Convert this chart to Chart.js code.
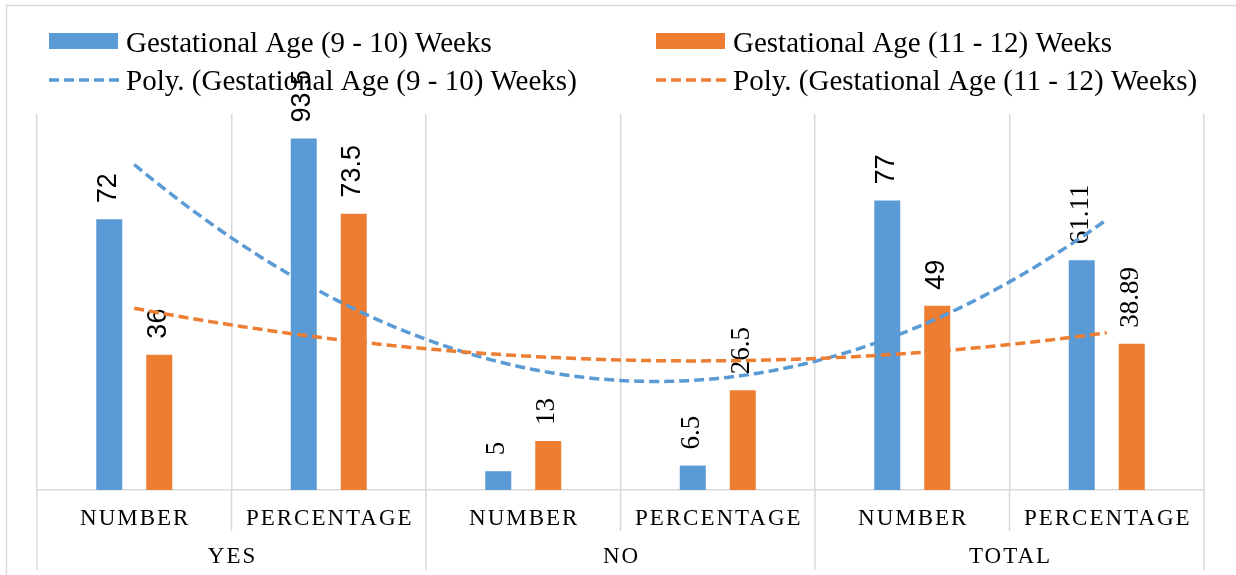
<!DOCTYPE html>
<html lang="en">
<head>
    <meta charset="UTF-8">
    <title>Gestational Age chart</title>
    <script src="https://cdn.jsdelivr.net/npm/chart.js"></script>
    <style>
        body { margin: 0; background: #fff; }
        .wrap { width: 1236px; height: 575px; position: relative; }
    </style>
</head>
<body>
    <div class="wrap"><canvas id="chart"></canvas></div>
    <script>
        // Data
        const categories = ["NUMBER", "PERCENTAGE", "NUMBER", "PERCENTAGE", "NUMBER", "PERCENTAGE"];
        const groups = ["YES", "NO", "TOTAL"];
        const seriesNames = ["Gestational Age (9 - 10) Weeks", "Gestational Age (11 - 12) Weeks"];
        const early = [72, 93.5, 5, 6.5, 77, 61.11];
        const late = [36, 73.5, 13, 26.5, 49, 38.89];

        const BLUE = "#5B9BD5";
        const ORANGE = "#ED7D31";
        const GRID = "#d9d9d9";
        const SERIF = "'Liberation Serif', 'Times New Roman', serif";
        const SANS = "'Liberation Sans', Arial, sans-serif";
        // which categories had their value labels in the sans font
        const sansLabels = [true, true, false, false, true, false];

        // Excel "Poly." trendline = order 2 least squares fit of the bar values
        function polyFit(values) {
            const xs = values.map((v, i) => i + 1);
            const s = [0, 0, 0, 0, 0], t = [0, 0, 0];
            xs.forEach((x, i) => {
                for (let k = 0; k < 5; k++) s[k] += Math.pow(x, k);
                for (let k = 0; k < 3; k++) t[k] += values[i] * Math.pow(x, k);
            });
            const m = [[s[0], s[1], s[2], t[0]], [s[1], s[2], s[3], t[1]], [s[2], s[3], s[4], t[2]]];
            for (let i = 0; i < 3; i++) {
                for (let j = i + 1; j < 3; j++) {
                    const f = m[j][i] / m[i][i];
                    for (let k = i; k < 4; k++) m[j][k] -= f * m[i][k];
                }
            }
            const c = [0, 0, 0];
            for (let i = 2; i >= 0; i--) {
                let v = m[i][3];
                for (let k = i + 1; k < 3; k++) v -= m[i][k] * c[k];
                c[i] = v / m[i][i];
            }
            const pts = [];
            for (let x = 1; x <= 6.0001; x += 0.05) pts.push({ x: x, y: c[0] + c[1] * x + c[2] * x * x });
            return pts;
        }

        // trendlines kept out of the dataset list: line datasets in a mixed
        // chart throw off the grouped bar widths, so they are stroked here
        // through the chart's own xt / y scales
        const trends = [
            { label: "Poly. (" + seriesNames[0] + ")", color: BLUE, points: polyFit(early) },
            { label: "Poly. (" + seriesNames[1] + ")", color: ORANGE, points: polyFit(late) }
        ];

        const decor = {
            id: "decor",
            beforeDraw(chart) {
                const ctx = chart.ctx;
                ctx.save();
                // outer frame (left and top edges show in the crop)
                ctx.strokeStyle = GRID;
                ctx.lineWidth = 1.5;
                ctx.beginPath();
                ctx.moveTo(6.5, 575);
                ctx.lineTo(6.5, 5.5);
                ctx.lineTo(1236, 5.5);
                ctx.stroke();

                // legend, two columns
                const colX = [49, 656];
                const base = [52, 90];
                ctx.font = "29px " + SERIF;
                ctx.textBaseline = "alphabetic";
                [BLUE, ORANGE].forEach((col, i) => {
                    ctx.fillStyle = col;
                    ctx.fillRect(colX[i], 33, 69, 16);
                    ctx.strokeStyle = col;
                    ctx.lineWidth = 3.5;
                    ctx.setLineDash([10, 5]);
                    ctx.beginPath();
                    ctx.moveTo(colX[i], 80);
                    ctx.lineTo(colX[i] + 70, 80);
                    ctx.stroke();
                    ctx.setLineDash([]);
                    ctx.fillStyle = "#000";
                    ctx.fillText(seriesNames[i], colX[i] + 77, base[0]);
                    ctx.fillText(trends[i].label, colX[i] + 77, base[1]);
                });
                ctx.restore();
            },
            afterDatasetDraw(chart, args) {
                const ds = chart.data.datasets[args.index];
                const ctx = chart.ctx;
                ctx.save();
                ctx.fillStyle = "#000";
                ctx.textAlign = "left";
                ctx.textBaseline = "middle";
                args.meta.data.forEach((bar, i) => {
                    ctx.save();
                    ctx.font = sansLabels[i] ? "27px " + SANS : "27px " + SERIF;
                    ctx.translate(bar.x - 1, bar.y - 16);
                    ctx.rotate(-Math.PI / 2);
                    ctx.fillText(String(ds.data[i]), 0, 0);
                    ctx.restore();
                });
                ctx.restore();
            },
            afterDatasetsDraw(chart) {
                const ctx = chart.ctx;
                const xt = chart.scales.xt, y = chart.scales.y;
                ctx.save();
                ctx.lineWidth = 3.5;
                ctx.setLineDash([10, 5]);
                trends.forEach(tr => {
                    ctx.strokeStyle = tr.color;
                    ctx.beginPath();
                    tr.points.forEach((p, i) => {
                        const px = xt.getPixelForValue(p.x), py = y.getPixelForValue(p.y);
                        if (i === 0) ctx.moveTo(px, py); else ctx.lineTo(px, py);
                    });
                    ctx.stroke();
                });
                ctx.restore();
            },
            afterDraw(chart) {
                const ctx = chart.ctx;
                const xs = chart.scales.x;
                const area = chart.chartArea;
                const w = (area.right - area.left) / categories.length;
                ctx.save();
                ctx.strokeStyle = GRID;
                ctx.lineWidth = 1.5;
                for (let k = 0; k <= categories.length; k++) {
                    const x = area.left + k * w;
                    ctx.beginPath();
                    ctx.moveTo(x, area.bottom);
                    ctx.lineTo(x, k % 2 === 0 ? 570 : 531);
                    ctx.stroke();
                }
                ctx.fillStyle = "#000";
                ctx.font = "23px " + SERIF;
                ctx.letterSpacing = "2px";
                ctx.textAlign = "center";
                ctx.textBaseline = "alphabetic";
                categories.forEach((c, i) => {
                    ctx.fillText(c, xs.getPixelForValue(i) + 1, 525);
                });
                groups.forEach((g, i) => {
                    ctx.fillText(g, area.left + (2 * i + 1) * w + 1, 563);
                });
                ctx.restore();
            }
        };

        new Chart(document.getElementById("chart"), {
            type: "bar",
            data: {
                labels: categories,
                datasets: [
                    { label: seriesNames[0], data: early, backgroundColor: BLUE },
                    { label: seriesNames[1], data: late, backgroundColor: ORANGE }
                ]
            },
            options: {
                responsive: true,
                maintainAspectRatio: false,
                animation: false,
                categoryPercentage: 0.514,
                barPercentage: 0.52,
                layout: { padding: { left: 37, right: 32, top: 114, bottom: 85 } },
                plugins: { legend: { display: false }, tooltip: { enabled: false } },
                scales: {
                    x: {
                        grid: { color: GRID, lineWidth: 1.5, drawTicks: false },
                        border: { color: GRID, width: 1.5 },
                        ticks: { display: false }
                    },
                    xt: { type: "linear", display: false, offset: false, min: 0.5, max: 6.5 },
                    y: { display: false, min: 0, max: 100 }
                }
            },
            plugins: [decor]
        });
    </script>
</body>
</html>
